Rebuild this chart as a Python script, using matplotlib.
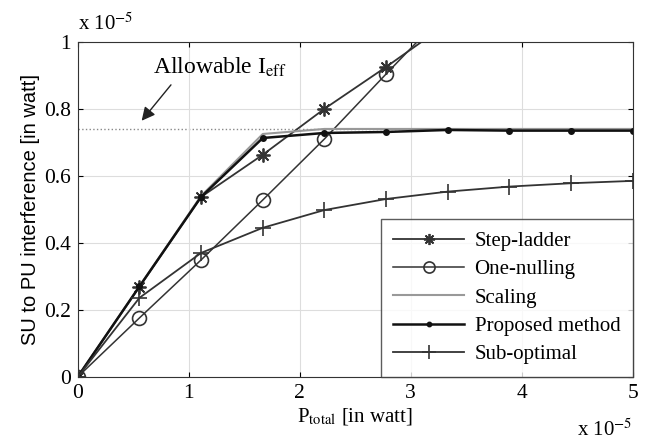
import numpy as np
import matplotlib
matplotlib.use('Agg')
import matplotlib.pyplot as plt

plt.rcParams['font.family'] = 'Liberation Serif'
plt.rcParams['mathtext.fontset'] = 'stix'
plt.rcParams['font.size'] = 15

# data (x in units of 1e-5 W, y in units of 1e-5 W)
p_total = [0, 0.556, 1.111, 1.667, 2.222, 2.778, 3.333]
p_total_full = [0, 0.556, 1.111, 1.667, 2.222, 2.778, 3.333, 3.889, 4.444, 5.0]
step_ladder = [0, 0.269, 0.537, 0.663, 0.80, 0.925, 1.055]
one_nulling = [0, 0.176, 0.349, 0.528, 0.71, 0.904, 1.095]
scaling = [0, 0.27, 0.54, 0.725, 0.74, 0.74, 0.74, 0.74, 0.74, 0.74]
proposed = [0, 0.27, 0.537, 0.713, 0.728, 0.731, 0.737, 0.735, 0.735, 0.735]
sub_optimal = [0, 0.236, 0.37, 0.445, 0.498, 0.531, 0.553, 0.568, 0.578, 0.585]
allowable = 0.74

fig = plt.figure(figsize=(6.53, 4.45), dpi=100)
ax = fig.add_axes([0.119, 0.153, 0.85, 0.753])

ax.axhline(allowable, color='#888888', ls=':', lw=1.0, zorder=1)

ax.plot(p_total, step_ladder, color='#333333', lw=1.3, marker=(8, 2, 0), ms=10,
        mec='#333333', mew=1.3, label='Step-ladder')
ax.plot(p_total, one_nulling, color='#333333', lw=1.1, marker='o', ms=10,
        mfc='none', mew=1.2, label='One-nulling')
ax.plot(p_total_full, scaling, color='#999999', lw=1.5, label='Scaling')
ax.plot(p_total_full, proposed, color='#111111', lw=1.8, marker='.', ms=8,
        label='Proposed method')
ax.plot(p_total_full, sub_optimal, color='#333333', lw=1.3, marker='+', ms=12,
        mew=1.2, label='Sub-optimal')

ax.set_xlim(0, 5)
ax.set_ylim(0, 1)
ax.set_xticks([0, 1, 2, 3, 4, 5])
ax.set_yticks([0, 0.2, 0.4, 0.6, 0.8, 1])
ax.set_xticklabels(['0', '1', '2', '3', '4', '5'])
ax.set_yticklabels(['0', '0.2', '0.4', '0.6', '0.8', '1'])
ax.grid(True, color='#dddddd', lw=0.8)
ax.tick_params(direction='in', top=True, right=True, labelsize=15.5, pad=5)
for s in ax.spines.values():
    s.set_color('#333333')

ax.set_xlabel('P$_{\\mathrm{total}}$ [in watt]', fontsize=15, labelpad=2)
ax.set_ylabel('SU to PU interference [in watt]', fontsize=14.5,
              family='Liberation Sans', labelpad=3)

ax.text(0.0, 1.02, 'x 10$^{-5}$', transform=ax.transAxes, fontsize=15,
        ha='left', va='bottom')
ax.text(1.0, -0.125, 'x 10$^{-5}$', transform=ax.transAxes, fontsize=15,
        ha='right', va='top')

ax.annotate('', xy=(0.56, 0.758), xytext=(0.856, 0.878),
            arrowprops=dict(arrowstyle='-|>', color='#222222', lw=1.0,
                            mutation_scale=20))
ax.text(1.28, 0.925, 'Allowable I$_{\\mathrm{eff}}$', fontsize=17,
        ha='center', va='center')

leg = ax.legend(loc='lower right', borderaxespad=0, fontsize=15,
                frameon=True, fancybox=False, edgecolor='#333333',
                handlelength=3.4, handletextpad=0.5, labelspacing=0.42,
                borderpad=0.6, markerscale=0.8)
leg.get_frame().set_linewidth(1.0)

fig.savefig('out.png', dpi=100)
